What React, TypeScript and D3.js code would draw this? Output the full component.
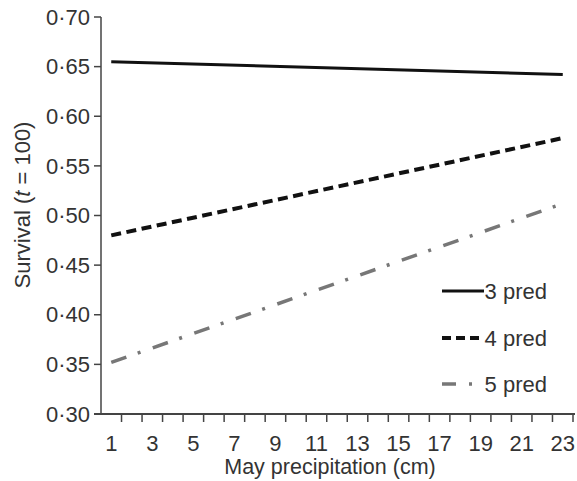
import React from "react";
import * as d3 from "d3";

const precipitation = [1, 23];
const pred3 = [0.655, 0.642];
const pred4 = [0.48, 0.578];
const pred5 = [0.352, 0.512];
const yTicks = [0.3, 0.35, 0.4, 0.45, 0.5, 0.55, 0.6, 0.65, 0.7];
const xTickLabels = [1, 3, 5, 7, 9, 11, 13, 15, 17, 19, 21, 23];
const xMinorTicks = d3.range(1.5, 24, 1);
const seriesNames = ["3 pred", "4 pred", "5 pred"];

const W = 577;
const H = 481;
const FONT = "'Liberation Sans', Arial, Helvetica, sans-serif";
const TEXT = "#333";
const AXIS = "#444";

const series = [
  { name: seriesNames[0], values: pred3, color: "#111", width: 3, dash: "none", legendDash: "none" },
  { name: seriesNames[1], values: pred4, color: "#111", width: 4, dash: "10 5.5", legendDash: "9 5" },
  { name: seriesNames[2], values: pred5, color: "#777", width: 3.5, dash: "16 12 3 13", legendDash: "14 13 3 20" },
];

export default function App() {
  const x = d3.scaleLinear().domain([0.5, 23.5]).range([101, 573]);
  const y = d3.scaleLinear().domain([0.3, 0.7]).range([414, 17]);
  const line = d3
    .line<number>()
    .x((_, i) => x(precipitation[i]))
    .y((d) => y(d));
  const fmt = (v: number) => v.toFixed(2).replace(".", "\u00B7");
  const legendY = [291, 338, 384];

  return (
    <svg
      width={W}
      height={H}
      style={{ position: "absolute", left: 0, top: 0, background: "#fff" }}
      fontFamily={FONT}
    >
      {/* lines */}
      {series.map((s) => (
        <path
          key={s.name}
          d={line(s.values) || ""}
          fill="none"
          stroke={s.color}
          strokeWidth={s.width}
          strokeDasharray={s.dash}
        />
      ))}

      {/* y axis */}
      <line x1={101} x2={101} y1={y(0.7)} y2={y(0.3)} stroke={AXIS} strokeWidth={1.5} />
      {yTicks.map((t) => (
        <g key={t}>
          <line x1={94} x2={101} y1={y(t)} y2={y(t)} stroke={AXIS} strokeWidth={1.5} />
          <text x={90} y={y(t)} dy="0.35em" textAnchor="end" fontSize={22} fill={TEXT}>
            {fmt(t)}
          </text>
        </g>
      ))}

      {/* x axis */}
      <line x1={94} x2={575} y1={y(0.3)} y2={y(0.3)} stroke={AXIS} strokeWidth={2} />
      {xMinorTicks.map((t) => (
        <line key={t} x1={x(t)} x2={x(t)} y1={414} y2={422} stroke={AXIS} strokeWidth={1.5} />
      ))}
      {xTickLabels.map((t) => (
        <text key={t} x={x(t)} y={443} dy="0.35em" textAnchor="middle" fontSize={22} fill={TEXT}>
          {t}
        </text>
      ))}

      <text x={330} y={466} dy="0.35em" textAnchor="middle" fontSize={21.5} fill={TEXT}>
        May precipitation (cm)
      </text>
      <text
        transform="translate(22,205) rotate(-90)"
        textAnchor="middle"
        dy="0.35em"
        fontSize={22}
        fill={TEXT}
      >
        Survival (<tspan fontStyle="italic">t</tspan> = 100)
      </text>

      {/* legend */}
      {series.map((s, i) => (
        <g key={s.name}>
          <line
            x1={442}
            x2={484}
            y1={legendY[i]}
            y2={legendY[i]}
            stroke={s.color}
            strokeWidth={s.width}
            strokeDasharray={s.legendDash}
          />
          <text x={547} y={legendY[i]} dy="0.35em" textAnchor="end" fontSize={22} fill={TEXT}>
            {s.name}
          </text>
        </g>
      ))}
    </svg>
  );
}
